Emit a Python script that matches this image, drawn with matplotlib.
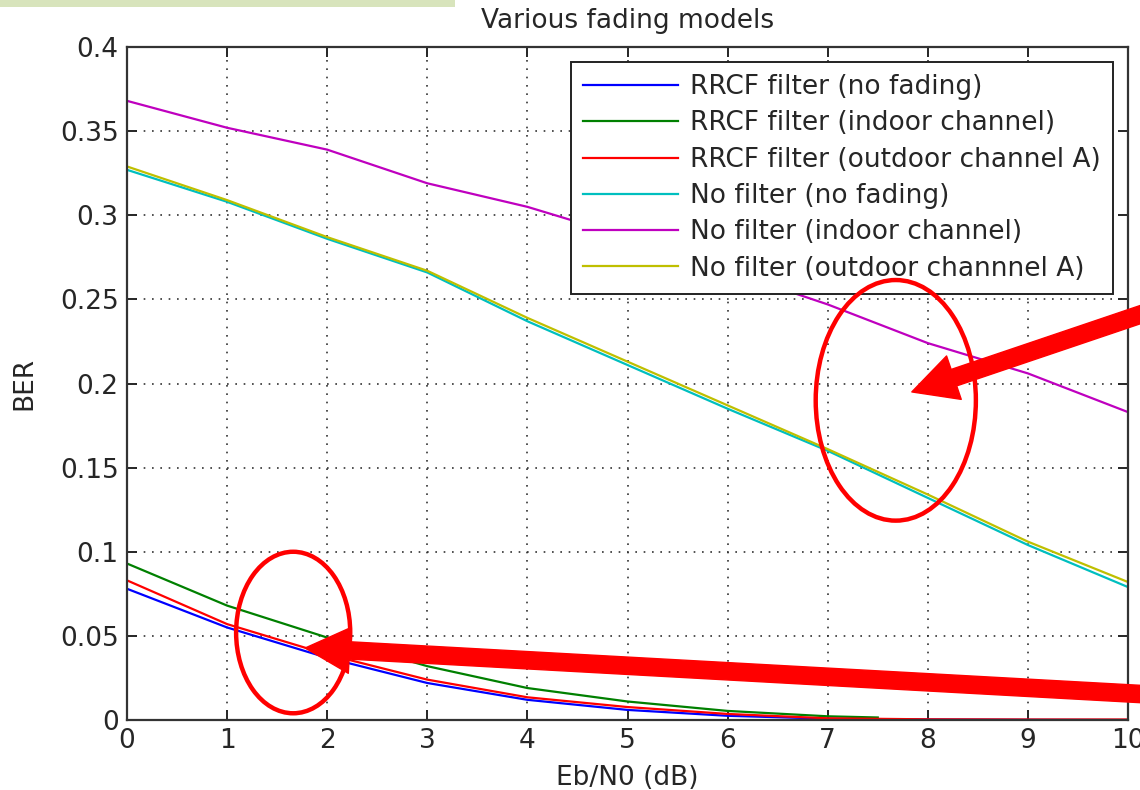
import numpy as np
import matplotlib
matplotlib.use('Agg')
import matplotlib.pyplot as plt
from matplotlib.patches import Ellipse, Rectangle

# Eb/N0 sample points (dB)
ebn0 = [0, 1, 2, 3, 4, 5, 6, 7, 8, 9, 10]
ebn0_indoor = [0, 1, 2, 3, 4, 5, 6, 7, 7.5]

rrcf_nofade = [0.078, 0.055, 0.037, 0.022, 0.012, 0.006, 0.0025, 0.0008, 0.0003, 0.0001, 0.0]
rrcf_indoor = [0.093, 0.068, 0.049, 0.032, 0.019, 0.011, 0.0054, 0.0022, 0.0015]
rrcf_outdoor = [0.083, 0.057, 0.039, 0.024, 0.0135, 0.0077, 0.0036, 0.001, 0.0004, 0.0003, 0.0003]
nofilt_nofade = [0.327, 0.308, 0.286, 0.266, 0.237, 0.211, 0.185, 0.160, 0.132, 0.104, 0.079]
nofilt_indoor = [0.368, 0.352, 0.339, 0.319, 0.305, 0.287, 0.267, 0.247, 0.224, 0.206, 0.183]
nofilt_outdoor = [0.329, 0.309, 0.287, 0.267, 0.239, 0.213, 0.187, 0.161, 0.134, 0.106, 0.082]

labels = ['RRCF filter (no fading)', 'RRCF filter (indoor channel)',
          'RRCF filter (outdoor channel A)', 'No filter (no fading)',
          'No filter (indoor channel)', 'No filter (outdoor channnel A)']

yticks = [0, 0.05, 0.1, 0.15, 0.2, 0.25, 0.3, 0.35, 0.4]
ytick_labels = ['0', '0.05', '0.1', '0.15', '0.2', '0.25', '0.3', '0.35', '0.4']

plt.rcParams['font.family'] = 'DejaVu Sans'
fs = 19
txt = '#262626'

fig = plt.figure(figsize=(11.4, 7.9), dpi=100)
ax = fig.add_axes([0.1114, 0.0886, 0.8781, 0.8519])

# light green strip at top-left of the screenshot
fig.patches.append(Rectangle((0, 0.991), 0.399, 0.009, transform=fig.transFigure,
                             facecolor='#d8e4bc', edgecolor='none'))

lw = 1.6
ax.plot(ebn0, rrcf_nofade, color='#0000ff', lw=lw, label=labels[0])
ax.plot(ebn0_indoor, rrcf_indoor, color='#008000', lw=lw, label=labels[1])
ax.plot(ebn0, rrcf_outdoor, color='#ff0000', lw=lw, label=labels[2])
ax.plot(ebn0, nofilt_nofade, color='#00bfbf', lw=lw, label=labels[3])
ax.plot(ebn0, nofilt_indoor, color='#bf00bf', lw=lw, label=labels[4])
ax.plot(ebn0, nofilt_outdoor, color='#bfbf00', lw=lw, label=labels[5])

ax.set_xlim(0, 10)
ax.set_ylim(0, 0.4)
ax.set_xticks(ebn0)
ax.set_yticks(yticks)
ax.set_yticklabels(ytick_labels)
ax.tick_params(direction='in', length=7, width=1.4, top=True, right=True,
               labelsize=fs, colors=txt, pad=6)
for s in ax.spines.values():
    s.set_linewidth(1.6)
    s.set_color('#333333')
ax.grid(True, color='#333333', linestyle=(0, (1, 4)), linewidth=1.2)

ax.set_title('Various fading models', fontsize=fs, color=txt, pad=14)
ax.set_xlabel('Eb/N0 (dB)', fontsize=fs, color=txt, labelpad=8)
ax.set_ylabel('BER', fontsize=fs, color=txt, labelpad=16)

leg = ax.legend(loc='upper right', fontsize=fs, frameon=True, fancybox=False,
                edgecolor='#222222', framealpha=1, labelspacing=0.39,
                handlelength=3.6, handletextpad=0.45, borderpad=0.45,
                borderaxespad=0.58, labelcolor=txt)
leg.get_frame().set_linewidth(1.4)

# red highlight annotations
ax.add_patch(Ellipse((7.68, 0.190), 1.6, 0.143, fill=False, edgecolor='#ff0000',
                     lw=3.2, zorder=6))
ax.add_patch(Ellipse((1.66, 0.052), 1.14, 0.096, fill=False, edgecolor='#ff0000',
                     lw=3.2, zorder=6))
astyle = 'simple,head_length=3.2,head_width=3.3,tail_width=1.25'
ax.annotate('', xy=(7.84, 0.195), xytext=(10.2, 0.2425), annotation_clip=False,
            arrowprops=dict(arrowstyle=astyle, color='#ff0000', mutation_scale=10,
                            shrinkA=0, shrinkB=0), zorder=7)
ax.annotate('', xy=(1.78, 0.0428), xytext=(10.2, 0.0152), annotation_clip=False,
            arrowprops=dict(arrowstyle=astyle, color='#ff0000', mutation_scale=10,
                            shrinkA=0, shrinkB=0), zorder=7)

fig.savefig('out.png', dpi=100)
